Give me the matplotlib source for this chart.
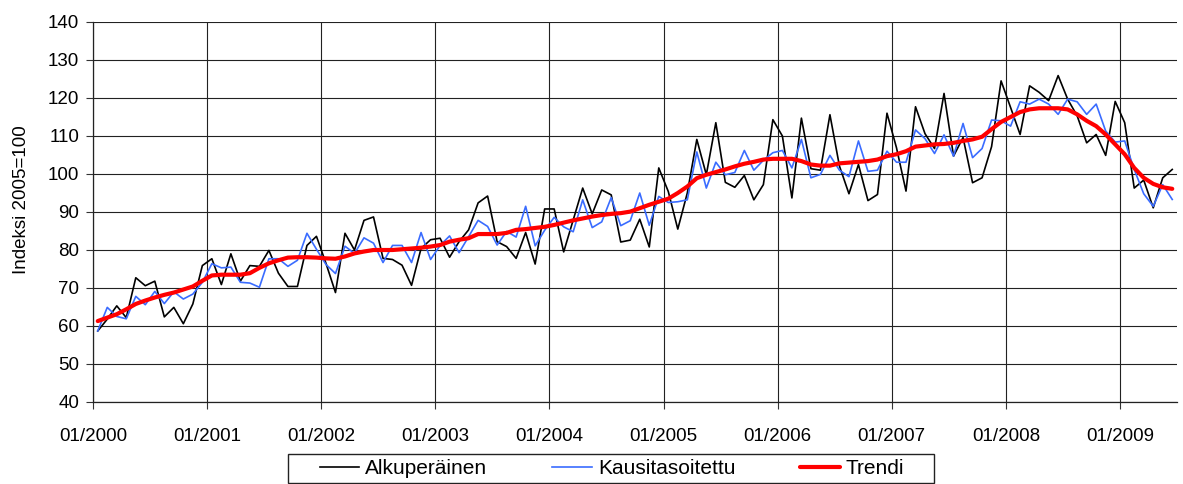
import matplotlib
matplotlib.use("Agg")
import matplotlib.pyplot as plt
from matplotlib.patches import Rectangle
import numpy as np

plt.rcParams['font.family'] = ['Liberation Sans', 'DejaVu Sans']

tick_labels = ["01/2000", "01/2001", "01/2002", "01/2003", "01/2004",
               "01/2005", "01/2006", "01/2007", "01/2008", "01/2009"]

alkuperainen = [
    58.7, 61.8, 65.3, 62.2, 72.7, 70.6, 71.8, 62.4, 64.9, 60.6, 65.8, 75.9,
    77.7, 70.9, 79.0, 71.8, 75.9, 75.7, 79.9, 73.9, 70.4, 70.4, 81.2, 83.6,
    76.5, 68.8, 84.4, 80.0, 87.8, 88.7, 77.8, 77.5, 76.0, 70.7, 80.4, 82.7,
    83.1, 78.1, 82.2, 85.3, 92.4, 94.2, 82.2, 80.9, 77.8, 84.6, 76.3, 90.8,
    90.8, 79.5, 87.9, 96.3, 89.5, 95.8, 94.5, 82.1, 82.6, 88.1, 80.8, 101.6,
    95.4, 85.5, 95.0, 109.1, 99.8, 113.5, 97.8, 96.5, 99.6, 93.2, 97.2, 114.3,
    110.0, 93.7, 114.7, 101.4, 101.0, 115.6, 102.1, 94.8, 102.5, 93.0, 94.6, 116.0,
    106.9, 95.5, 117.7, 110.6, 106.7, 121.2, 104.7, 109.6, 97.7, 99.0, 107.2, 124.5,
    117.5, 110.4, 123.2, 121.5, 119.3, 125.9, 119.7, 115.3, 108.2, 110.4, 104.9, 119.1,
    113.5, 96.3, 98.4, 91.1, 99.0, 101.2,
]

kausitasoitettu = [
    58.7, 64.9, 62.5, 61.9, 67.8, 65.6, 69.1, 65.9, 69.0, 67.1, 68.4, 71.5,
    76.4, 75.3, 75.5, 71.5, 71.3, 70.2, 77.7, 77.7, 75.7, 77.3, 84.4, 80.2,
    76.2, 73.8, 81.0, 79.1, 83.2, 81.8, 76.7, 81.2, 81.2, 76.7, 84.6, 77.5,
    81.2, 83.7, 79.3, 83.5, 87.8, 86.2, 81.3, 84.9, 83.4, 91.5, 81.1, 85.2,
    88.6, 86.1, 84.8, 93.2, 85.9, 87.4, 93.8, 86.4, 87.7, 95.0, 86.5, 94.1,
    92.5, 92.7, 93.2, 105.8, 96.3, 103.1, 99.8, 100.4, 106.2, 101.0, 103.6, 105.6,
    106.2, 101.6, 109.1, 99.0, 99.9, 104.9, 101.0, 99.3, 108.7, 100.7, 101.0, 106.0,
    103.1, 103.1, 111.6, 109.3, 105.4, 110.3, 104.7, 113.3, 104.3, 106.7, 114.2, 114.0,
    112.6, 119.0, 118.4, 119.7, 118.4, 115.7, 119.7, 119.0, 115.7, 118.4, 111.3, 108.4,
    108.7, 101.2, 94.8, 91.5, 97.2, 93.3,
]

trendi = [
    61.3, 62.2, 63.1, 64.4, 65.8, 66.7, 67.5, 68.2, 68.8, 69.6, 70.4, 71.9,
    73.3, 73.5, 73.5, 73.5, 73.9, 75.3, 76.5, 77.3, 78.0, 78.1, 78.1, 78.0,
    77.8, 77.7, 78.3, 79.1, 79.6, 80.0, 80.0, 80.0, 80.2, 80.4, 80.6, 80.9,
    81.3, 82.2, 82.7, 83.1, 84.2, 84.2, 84.2, 84.5, 85.3, 85.5, 85.8, 86.1,
    86.6, 87.2, 87.8, 88.3, 88.8, 89.2, 89.5, 89.7, 90.1, 91.0, 91.9, 92.7,
    93.5, 95.0, 96.7, 98.9, 99.8, 100.5, 101.2, 102.0, 102.7, 103.2, 103.8, 104.0,
    104.0, 104.0, 103.4, 102.5, 102.2, 102.2, 102.8, 103.0, 103.2, 103.4, 103.8, 104.7,
    105.2, 106.0, 107.2, 107.5, 107.8, 107.9, 108.2, 108.7, 109.1, 109.8, 111.8, 113.7,
    115.0, 116.3, 117.0, 117.3, 117.3, 117.3, 117.0, 115.7, 114.0, 112.6, 110.4, 107.8,
    105.2, 101.6, 99.0, 97.4, 96.5, 96.1,
]

series_names = ["Alkuperäinen", "Kausitasoitettu", "Trendi"]

n = len(alkuperainen)
x = np.arange(n) + 0.5

W, H = 1183, 484
fig = plt.figure(figsize=(W / 100, H / 100), dpi=100)
ax = fig.add_axes([93 / W, 1 - 402 / H, (1177 - 93) / W, (402 - 22) / H])

l1, = ax.plot(x, alkuperainen, color="black", lw=1.2, label=series_names[0], zorder=3)
l2, = ax.plot(x, kausitasoitettu, color="#3a6cff", lw=1.2, label=series_names[1], zorder=4)
l3, = ax.plot(x, trendi, color="#ff0000", lw=3.0, label=series_names[2], zorder=5,
              solid_capstyle="round")

ax.set_xlim(0, n)
ax.set_ylim(40, 140)
ax.set_yticks(np.arange(40, 141, 10))
ax.set_xticks(np.arange(0, n, 12))
ax.set_xticklabels(tick_labels)
ax.tick_params(axis="both", labelsize=13.5, length=5, width=0.8, color="#333333",
               direction="out")
ax.tick_params(axis="x", pad=14)
ax.tick_params(axis="y", pad=5)

ax.grid(True, color="#222222", lw=0.8)
ax.set_axisbelow(True)
for s in ["top", "right"]:
    ax.spines[s].set_visible(False)
for s in ["left", "bottom"]:
    ax.spines[s].set_color("#222222")
    ax.spines[s].set_linewidth(0.9)

fig.text(22 / W, 1 - 200 / H, "Indeksi 2005=100", rotation=90, ha="center",
         va="center", fontsize=13.5)

leg = fig.legend(handles=[l1, l2, l3], loc="center", ncol=3,
                 bbox_to_anchor=(612 / W, 1 - 469 / H), frameon=False,
                 fontsize=15, handlelength=1.9, handletextpad=0.3,
                 columnspacing=3.1)
fig.patches.append(Rectangle((288 / W, 1 - 483 / H), (934 - 288) / W, (483 - 454) / H,
                             transform=fig.transFigure, fill=False,
                             edgecolor="#222222", lw=1.0))

fig.savefig("out.png", dpi=100)
